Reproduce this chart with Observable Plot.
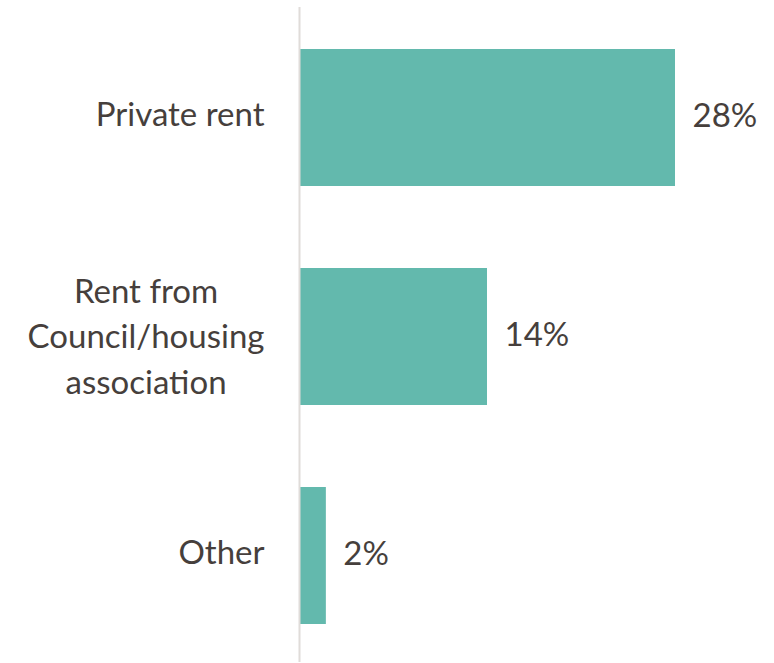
<!DOCTYPE html>
<html>
<head>
<meta charset="utf-8">
<script src="https://cdn.jsdelivr.net/npm/d3@7"></script>
<script src="https://cdn.jsdelivr.net/npm/@observablehq/plot@0.6"></script>
<style>
  html, body { margin: 0; padding: 0; background: #ffffff; }
  #chart svg { display: block; }
</style>
</head>
<body>
<div id="chart"></div>
<script>
const categories = ["Private rent", "Rent from\nCouncil/housing\nassociation", "Other"];
const values = [28, 14, 2];
const valueLabels = ["28%", "14%", "2%"];

const data = categories.map((c, i) => ({cat: c, value: values[i], label: valueLabels[i]}));

const textColor = "#463f3c";
const fontFamily = "Lato, 'Open Sans', sans-serif";
const fontSize = 33;
const labelGap = 35;

// measure widest line for multi-line labels (block right-aligned, lines centered)
const ctx = document.createElement("canvas").getContext("2d");
ctx.font = `${fontSize}px Lato`;
const blockWidth = (s) => Math.max(...s.split("\n").map(l => ctx.measureText(l).width));

const single = data.filter(d => !d.cat.includes("\n"));
const multi = data.filter(d => d.cat.includes("\n"));

const chart = Plot.plot({
  width: 774,
  height: 663,
  marginLeft: 299,
  marginRight: 5,
  marginTop: 7,
  marginBottom: 1,
  style: {background: "#ffffff", fontFamily},
  x: {domain: [0, 35], axis: null},
  y: {domain: categories, range: [48, 626], paddingInner: 0.3727, paddingOuter: 0, axis: null},
  marks: [
    Plot.barX(data, {y: "cat", x: "value", fill: "#63b9ad"}),
    Plot.ruleX([0], {stroke: "#e0dcd9", strokeWidth: 2}),
    Plot.text(single, {y: "cat", x: 0, text: "cat", textAnchor: "end", dx: -labelGap, dy: -3, fontSize, fill: textColor}),
    ...multi.map(d => Plot.text([d], {y: "cat", x: 0, text: "cat", textAnchor: "middle", dx: -labelGap - blockWidth(d.cat) / 2, dy: -3, lineHeight: 1.37, fontSize, fill: textColor})),
    Plot.text(data, {y: "cat", x: "value", text: "label", textAnchor: "start", dx: 17, dy: -2, fontSize, fill: textColor})
  ]
});
document.getElementById("chart").appendChild(chart);
</script>
</body>
</html>
